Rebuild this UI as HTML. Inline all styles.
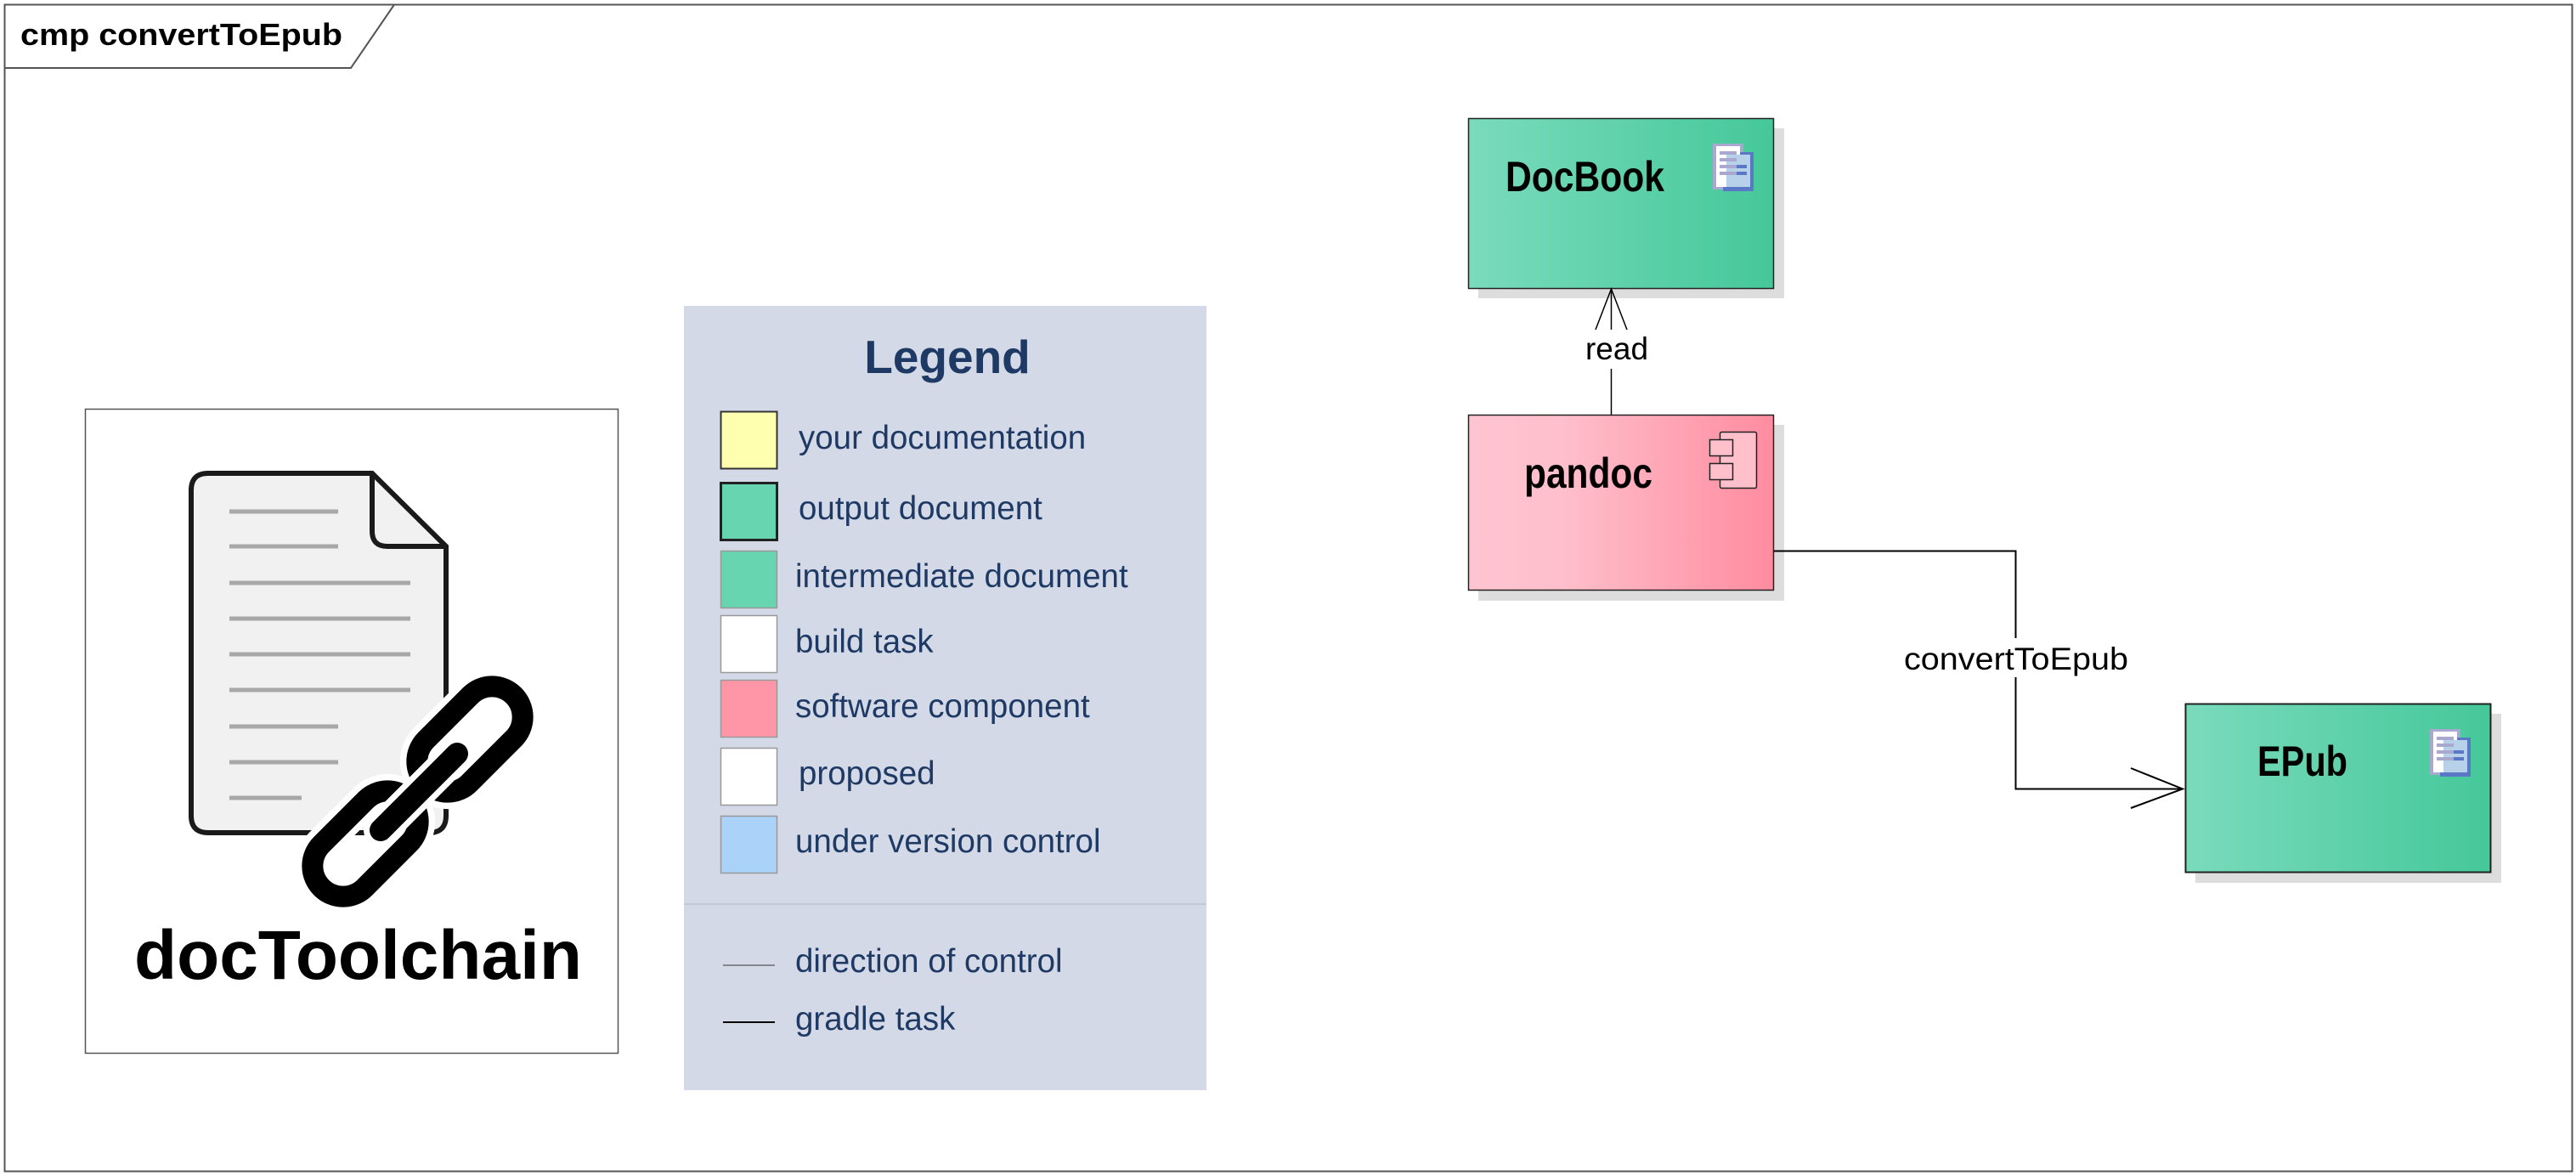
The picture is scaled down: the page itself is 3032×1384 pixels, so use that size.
<!DOCTYPE html>
<html><head><meta charset="utf-8"><style>
html,body{margin:0;padding:0;background:#fff}
svg{display:block}
text{font-family:"Liberation Sans",Arial,sans-serif}
</style></head><body>
<svg width="3032" height="1384" viewBox="0 0 3032 1384" xmlns="http://www.w3.org/2000/svg">
<defs>
<linearGradient id="g" x1="0" x2="1" y1="0" y2="0"><stop offset="0" stop-color="#7adbbc"/><stop offset="1" stop-color="#45c89a"/></linearGradient>
<linearGradient id="p" x1="0" x2="1" y1="0" y2="0"><stop offset="0" stop-color="#ffc4d1"/><stop offset="0.3" stop-color="#ffbfcc"/><stop offset="1" stop-color="#ff8ca0"/></linearGradient>
<g id="doc">
<rect x="0" y="0" width="36" height="54" fill="#a9a8d0"/>
<rect x="12" y="10" width="36" height="46" fill="#5a78c6"/>
<rect x="4" y="3" width="28" height="48" fill="#fff"/>
<rect x="16" y="13" width="28" height="38" fill="#b7d2e8"/>
<rect x="8" y="9" width="20" height="4" fill="#a9a8d0"/>
<rect x="8" y="17" width="20" height="4" fill="#a9a8d0"/>
<rect x="8" y="25" width="32" height="4" fill="#a9a8d0"/>
<rect x="8" y="33" width="32" height="4" fill="#a9a8d0"/>
<rect x="28" y="25" width="12" height="4" fill="#5a78c6"/>
<rect x="28" y="33" width="12" height="4" fill="#5a78c6"/>
</g>
</defs>
<rect x="5.5" y="5.5" width="3022" height="1373" fill="#fff" stroke="#555" stroke-width="2"/>
<path d="M5.5,80 H413 L464,5.5" fill="none" stroke="#555" stroke-width="2"/>
<text x="24" y="53" font-size="36" font-weight="bold" textLength="379" lengthAdjust="spacingAndGlyphs">cmp convertToEpub</text>

<rect x="100.5" y="481.5" width="627" height="758" fill="#fff" stroke="#555" stroke-width="1.5"/>
<path d="M245,557 H438 L525,643 V960 Q525,980 505,980 H245 Q225,980 225,960 V577 Q225,557 245,557 Z" fill="#f1f1f1" stroke="#1a1a1a" stroke-width="6"/>
<path d="M438,557 V625 Q438,643 456,643 H525" fill="none" stroke="#1a1a1a" stroke-width="6"/>
<g stroke="#a8a8a8" stroke-width="5">
<line x1="270" y1="602" x2="398" y2="602"/><line x1="270" y1="643" x2="398" y2="643"/>
<line x1="270" y1="686" x2="483" y2="686"/><line x1="270" y1="728" x2="483" y2="728"/>
<line x1="270" y1="770" x2="483" y2="770"/><line x1="270" y1="812" x2="483" y2="812"/>
<line x1="270" y1="855" x2="398" y2="855"/><line x1="270" y1="897" x2="398" y2="897"/>
<line x1="270" y1="939" x2="355" y2="939"/>
</g>
<g transform="translate(553,870) rotate(-45)"><rect x="-73" y="-36" width="146" height="72" rx="36" fill="none" stroke="#fff" stroke-width="40"/><rect x="-73" y="-36" width="146" height="72" rx="36" fill="none" stroke="#000" stroke-width="25"/></g>
<g transform="translate(430,993) rotate(-45)"><rect x="-73" y="-36" width="146" height="72" rx="36" fill="none" stroke="#fff" stroke-width="40"/><rect x="-73" y="-36" width="146" height="72" rx="36" fill="none" stroke="#000" stroke-width="25"/></g>
<line x1="448" y1="977" x2="538" y2="887" stroke="#fff" stroke-width="40" stroke-linecap="round"/>
<line x1="448" y1="977" x2="538" y2="887" stroke="#000" stroke-width="26" stroke-linecap="round"/>
<text x="158" y="1152" font-size="82" font-weight="bold" textLength="527" lengthAdjust="spacingAndGlyphs">docToolchain</text>

<rect x="805" y="360" width="615" height="923" fill="#d3d9e6"/>
<line x1="805" y1="1064" x2="1420" y2="1064" stroke="#c3c9d8" stroke-width="2"/>
<text x="1115" y="439" font-size="55" font-weight="bold" fill="#1e3a64" text-anchor="middle">Legend</text>
<g font-size="38.5" fill="#1e3a64">
<rect x="848.5" y="484.5" width="66" height="67" fill="#ffffb0" stroke="#333" stroke-width="2"/>
<text x="940" y="528">your documentation</text>
<rect x="848.5" y="568.5" width="66" height="67" fill="#66d5b0" stroke="#222" stroke-width="3"/>
<text x="940" y="611">output document</text>
<rect x="848.5" y="648.5" width="66" height="67" fill="#66d5b0" stroke="#999" stroke-width="1.5"/>
<text x="936" y="691">intermediate document</text>
<rect x="848.5" y="724.5" width="66" height="67" fill="#fff" stroke="#999" stroke-width="1.5"/>
<text x="936" y="768">build task</text>
<rect x="848.5" y="800.5" width="66" height="67" fill="#ff96a8" stroke="#999" stroke-width="1.5"/>
<text x="936" y="844">software component</text>
<rect x="848.5" y="880.5" width="66" height="67" fill="#fff" stroke="#999" stroke-width="1.5"/>
<text x="940" y="923">proposed</text>
<rect x="848.5" y="960.5" width="66" height="67" fill="#abd3f9" stroke="#999" stroke-width="1.5"/>
<text x="936" y="1003">under version control</text>
<line x1="851" y1="1136" x2="912" y2="1136" stroke="#333" stroke-width="1"/>
<text x="936" y="1144">direction of control</text>
<line x1="851" y1="1203" x2="912" y2="1203" stroke="#000" stroke-width="2"/>
<text x="936" y="1212">gradle task</text>
</g>

<rect x="1740" y="151" width="360" height="200" fill="#ddd"/>
<rect x="1728.5" y="139.5" width="359" height="200" fill="url(#g)" stroke="#222" stroke-width="1.5"/>
<text x="1772" y="225" font-size="50" font-weight="bold" textLength="187" lengthAdjust="spacingAndGlyphs">DocBook</text>
<use href="#doc" x="2016" y="169"/>

<rect x="1740" y="500" width="360" height="207" fill="#ddd"/>
<rect x="1728.5" y="488.5" width="359" height="206" fill="url(#p)" stroke="#222" stroke-width="1.5"/>
<text x="1794" y="574" font-size="50" font-weight="bold" textLength="151" lengthAdjust="spacingAndGlyphs">pandoc</text>
<rect x="2024.5" y="508.5" width="43" height="66" rx="2" fill="#ffc0cc" stroke="#222" stroke-width="1.5"/>
<rect x="2012.5" y="517.5" width="27" height="19" fill="#ffc0cc" stroke="#222" stroke-width="1.5"/>
<rect x="2012.5" y="545.5" width="27" height="19" fill="#ffc0cc" stroke="#222" stroke-width="1.5"/>

<line x1="1896.5" y1="340" x2="1896.5" y2="388" stroke="#000" stroke-width="1.5"/>
<line x1="1896.5" y1="434" x2="1896.5" y2="488" stroke="#000" stroke-width="1.5"/>
<path d="M1878,388 L1896.5,340 L1915,388" fill="none" stroke="#000" stroke-width="1.5"/>
<text x="1903" y="423" font-size="37" text-anchor="middle">read</text>

<path d="M2088,648.5 H2372.5 V751" fill="none" stroke="#000" stroke-width="2"/>
<path d="M2372.5,797 V928.5 H2569" fill="none" stroke="#000" stroke-width="2"/>
<path d="M2508,904 L2569,928.5 L2508,951" fill="none" stroke="#000" stroke-width="2"/>
<text x="2373" y="788" font-size="37" text-anchor="middle" textLength="264" lengthAdjust="spacingAndGlyphs">convertToEpub</text>

<rect x="2584" y="840" width="360" height="199" fill="#ddd"/>
<rect x="2572.5" y="828.5" width="359" height="198" fill="url(#g)" stroke="#222" stroke-width="2"/>
<text x="2657" y="913" font-size="50" font-weight="bold" textLength="106" lengthAdjust="spacingAndGlyphs">EPub</text>
<use href="#doc" x="2860" y="858"/>
</svg>
</body></html>
